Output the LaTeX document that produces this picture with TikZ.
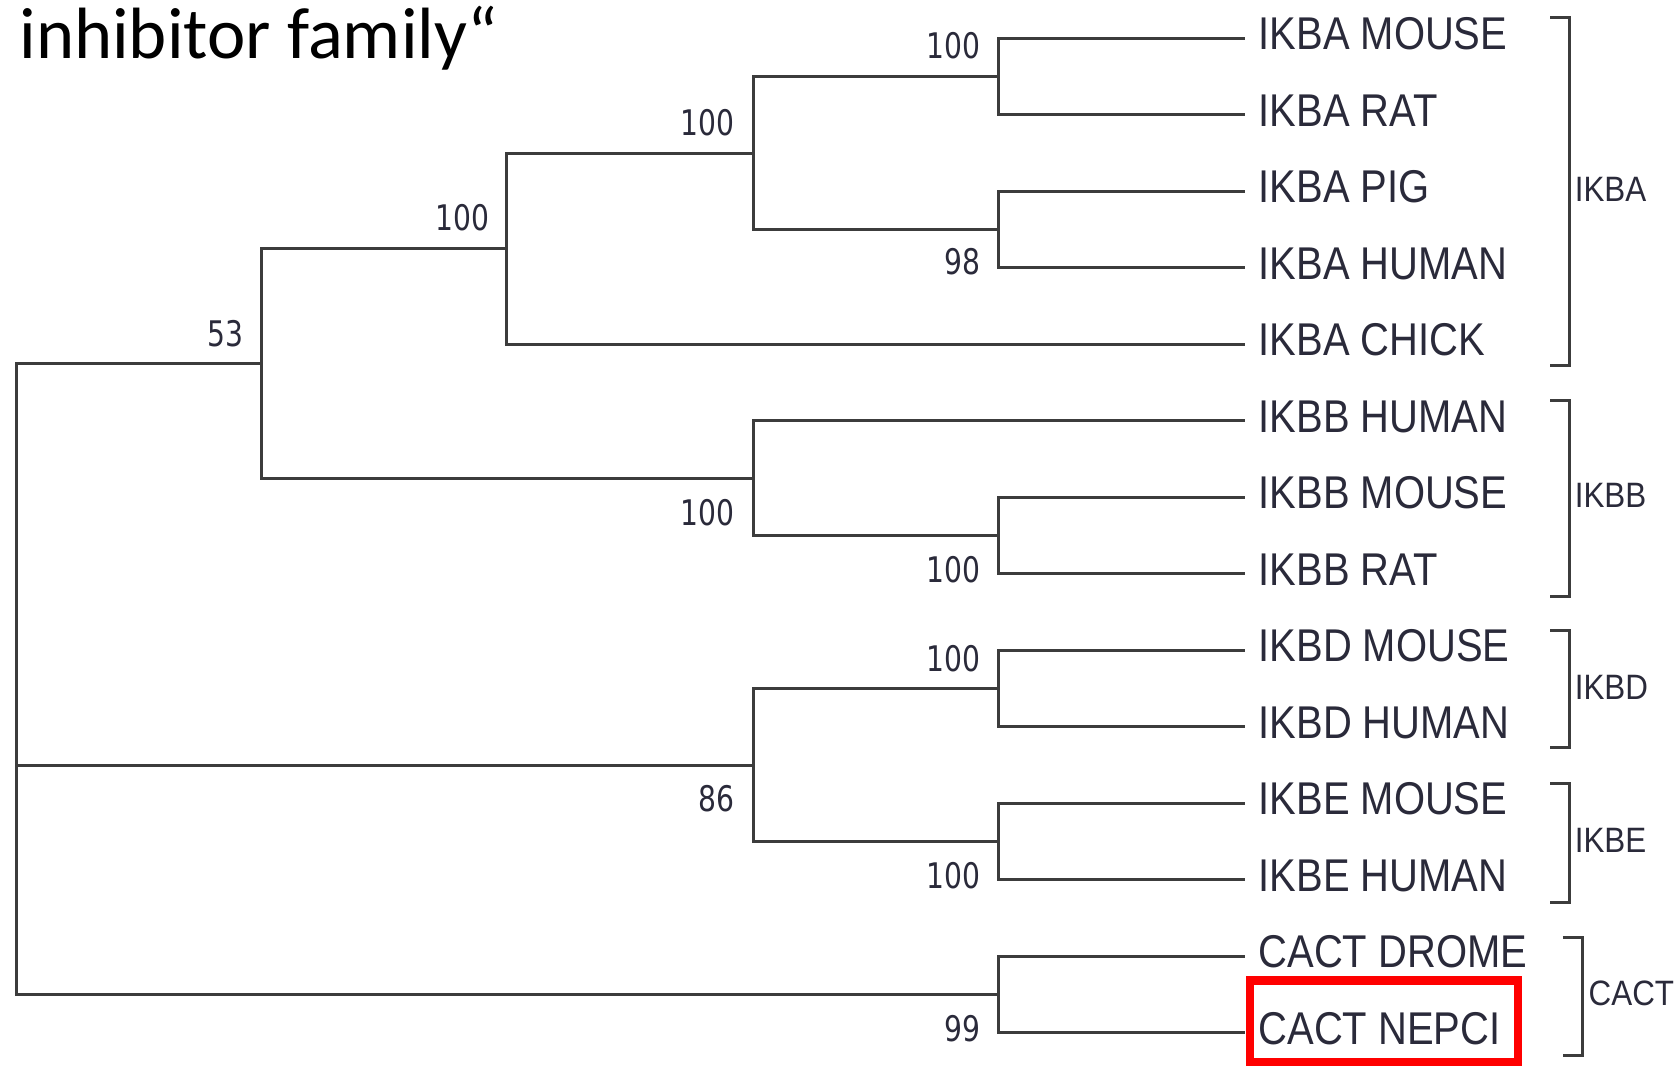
\documentclass[tikz,border=0pt]{standalone}
\usepackage{fontspec}
\newfontfamily\leaffont[FakeStretch=0.87]{Liberation Sans}
\newfontfamily\grpfont[FakeStretch=0.89]{Liberation Sans}
\newfontfamily\bsfont[FakeStretch=0.8]{DejaVu Sans}
\newfontfamily\titlefont{Carlito}
\definecolor{treeline}{HTML}{3C3C3C}
\definecolor{treetext}{HTML}{2A2A3A}
\begin{document}
\begin{tikzpicture}[x=1pt,y=-1pt,
  branch/.style={draw=treeline,line width=2.8pt,line join=miter},
  leaflabel/.style={anchor=base west,inner sep=0pt,text=treetext,font=\leaffont\fontsize{43}{43}\selectfont},
  grplabel/.style={anchor=base west,inner sep=0pt,text=treetext,font=\grpfont\fontsize{33}{33}\selectfont},
  bslabel/.style={anchor=base east,inner sep=0pt,text=treetext,font=\bsfont\fontsize{33}{33}\selectfont},
  bracketline/.style={draw=treeline,line width=2.8pt,line join=miter}]
\useasboundingbox (0,0) rectangle (1568,999);
\fill[white] (0,0) rectangle (1568,999);
% title
\node[anchor=base west,inner sep=0pt,font=\titlefont\fontsize{68}{68}\selectfont] (title) at (18,55) {inhibitor family“};
% leaves
\foreach \k/\name/\txt in {0/l0/IKBA MOUSE,1/l1/IKBA RAT,2/l2/IKBA PIG,3/l3/IKBA HUMAN,4/l4/IKBA CHICK,
  5/l5/IKBB HUMAN,6/l6/IKBB MOUSE,7/l7/IKBB RAT,8/l8/IKBD MOUSE,9/l9/IKBD HUMAN,
  10/l10/IKBE MOUSE,11/l11/IKBE HUMAN,12/l12/CACT DROME,13/l13/CACT NEPCI}{
  \coordinate (\name) at (1165,{36+71.6*\k});
  \node[leaflabel] (t\name) at (1178,{36+71.6*\k+10.5}) {\txt};
}
% internal nodes
\coordinate (nC) at (935,71.8);
\coordinate (n98) at (935,215);
\coordinate (nB) at (705,143.4);
\coordinate (nA) at (474,232.9);
\coordinate (nBBmr) at (935,501.4);
\coordinate (nBB) at (705,447.7);
\coordinate (n53) at (245,340.3);
\coordinate (nD) at (935,644.6);
\coordinate (nE) at (935,787.8);
\coordinate (n86) at (705,716.2);
\coordinate (nCACT) at (935,931);
\coordinate (root) at (15,635.6);
% edges
\draw[branch] (l0) -| (nC) |- (l1);
\draw[branch] (l2) -| (n98) |- (l3);
\draw[branch] (nC) -| (nB) |- (n98);
\draw[branch] (nB) -| (nA) |- (l4);
\draw[branch] (l6) -| (nBBmr) |- (l7);
\draw[branch] (l5) -| (nBB) |- (nBBmr);
\draw[branch] (nA) -| (n53) |- (nBB);
\draw[branch] (l8) -| (nD) |- (l9);
\draw[branch] (l10) -| (nE) |- (l11);
\draw[branch] (nD) -| (n86) |- (nE);
\draw[branch] (l12) -| (nCACT) |- (l13);
\draw[branch] (n53) -| (root) |- (nCACT);
\draw[branch] (root |- n86) -- (n86);
% bootstrap values
\node[bslabel] (b1) at (918,55) {100};
\node[bslabel] (b2) at (688,127) {100};
\node[bslabel] (b3) at (458,216) {100};
\node[bslabel] (b4) at (228,324) {53};
\node[bslabel] (b5) at (918,257) {98};
\node[bslabel] (b6) at (688,492) {100};
\node[bslabel] (b7) at (918,545) {100};
\node[bslabel] (b8) at (918,629) {100};
\node[bslabel] (b9) at (688,760) {86};
\node[bslabel] (b10) at (918,832) {100};
\node[bslabel] (b11) at (918,975) {99};
% group brackets
\draw[bracketline] (1451,16) -- (1469,16) -- (1469,342) -- (1451,342);
\draw[bracketline] (1451,375) -- (1469,375) -- (1469,558) -- (1451,558);
\draw[bracketline] (1451,590) -- (1469,590) -- (1469,700) -- (1451,700);
\draw[bracketline] (1451,733) -- (1469,733) -- (1469,845) -- (1451,845);
\draw[bracketline] (1463,878) -- (1481,878) -- (1481,988) -- (1463,988);
\node[grplabel] (gA) at (1474,188.7) {IKBA};
\node[grplabel] (gB) at (1474,474.7) {IKBB};
\node[grplabel] (gD) at (1474,654.7) {IKBD};
\node[grplabel] (gE) at (1474,797.7) {IKBE};
\node[grplabel] (gC) at (1487,941.7) {CACT};
% highlight
\draw[red,line width=7.8pt] (1170,918) rectangle (1421,994);
\end{tikzpicture}
\end{document}
